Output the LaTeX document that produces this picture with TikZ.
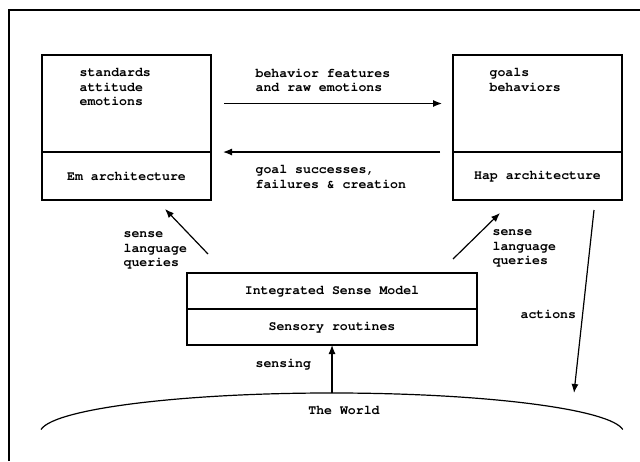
\documentclass[tikz,border=0pt]{standalone}
\usepackage[T1]{fontenc}
\usepackage{courier}
\usetikzlibrary{arrows.meta,positioning}

\begin{document}
\begin{tikzpicture}[x=1pt,y=-1pt,>={Latex[length=9pt,width=7pt]},line width=1.2pt,
  every node/.style={font=\ttfamily\bfseries\fontsize{13.2}{14.5}\selectfont},
  box/.style={draw,inner sep=0pt,outer sep=0pt,minimum width=169pt},
  wide/.style={draw,inner sep=0pt,outer sep=0pt,minimum width=290pt,minimum height=36pt},
  txt/.style={align=left,anchor=north west,inner sep=0pt}]

\useasboundingbox (0,0) rectangle (640,461);
\draw (9,461) -- (9,10) -- (640,10);

% architectures
\node[box,minimum height=97pt] (emtop)  at (126.5,103.5) {};
\node[box,minimum height=48pt] (embot)  [below=0pt of emtop] {Em architecture};
\node[box,minimum height=97pt] (haptop) at (537.5,103.5) {};
\node[box,minimum height=48pt] (hapbot) [below=0pt of haptop] {Hap architecture};

\node[txt] (emlist)  at (79,68)  {standards\\attitude\\emotions};
\node[txt] (haplist) at (489,68) {goals\\behaviors};

% sense model
\node[wide] (ism)  at (332,291) {Integrated Sense Model};
\node[wide] (sens) [below=0pt of ism] {Sensory routines};

% labels
\node[txt] (fwd)    at (255,68)  {behavior features\\and raw emotions};
\node[txt] (back)   at (255,165) {goal successes,\\failures \& creation};
\node[txt] (qleft)  at (123,231) {sense\\language\\queries};
\node[txt] (qright) at (492,229) {sense\\language\\queries};
\node[anchor=west,inner sep=0pt] (sensing) at (255,364) {sensing};
\node[anchor=west,inner sep=0pt] (actions) at (520,314) {actions};
\node (world) at (344,410) {The World};

\coordinate (wtop) at (332,393);
\coordinate (ql0) at (208,254);
\coordinate (ql1) at (165,209);
\coordinate (qr0) at (453,259);
\coordinate (qr1) at (500,213);
\coordinate (act0) at (594,210);
\coordinate (act1) at (574,393);

\draw (41,429.5) arc[start angle=175,end angle=5,x radius=292pt,y radius=40pt];

\path[->]
  (emtop.east) edge[shorten <=13pt,shorten >=11pt] (haptop.west)
  (haptop.south west) edge[shorten <=13pt,shorten >=12pt] (emtop.south east)
  (ql0) edge (ql1)
  (qr0) edge (qr1)
  (act0) edge (act1)
  (wtop) edge (sens.south);

\end{tikzpicture}
\end{document}
